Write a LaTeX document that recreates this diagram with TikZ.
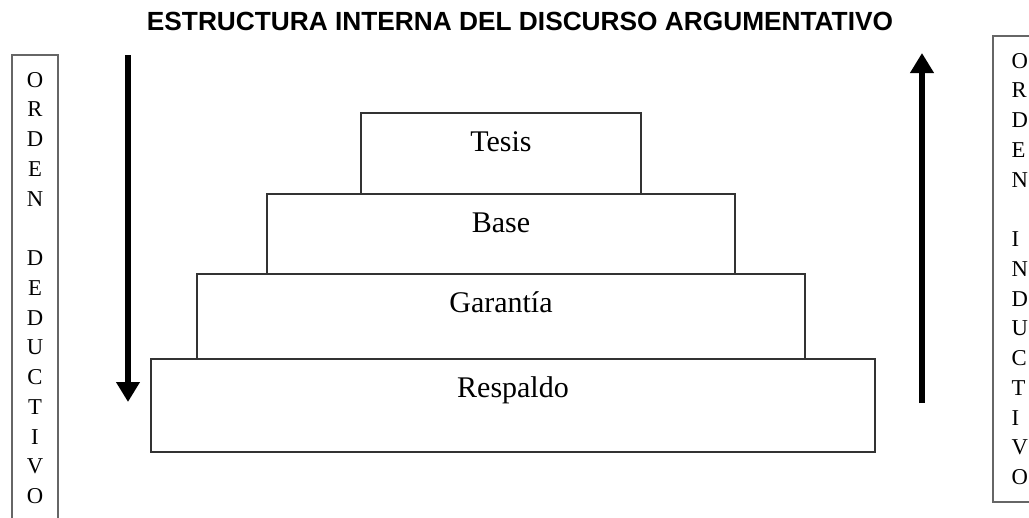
\documentclass[tikz,border=0pt]{standalone}
\usepackage{fontspec}
\setmainfont{Liberation Serif}
\newfontfamily\titlefont{Liberation Sans}
\usetikzlibrary{arrows.meta, positioning}

\begin{document}
\begin{tikzpicture}[
    x=0.75pt, y=-0.75pt,
    every node/.style={font=\fontsize{22.5}{27}\selectfont},
    tier/.style={draw=black!80, line width=1.1pt, outer sep=0pt, inner sep=0pt, text height=29pt},
    side/.style={draw=black!60, line width=1.3pt, inner ysep=13pt, font=\fontsize{17}{22.3}\selectfont},
    flow/.style={line width=4.5pt, -{Triangle[width=17pt,length=15pt]}}
]
\clip (0,0) rectangle (1029,518);

% Title
\node[font=\titlefont\bfseries\fontsize{19.7}{23}\selectfont] (title) at (520,21)
    {ESTRUCTURA INTERNA DEL DISCURSO ARGUMENTATIVO};

% Steps
\node[tier, anchor=north, minimum width=210pt, minimum height=60.75pt, text depth=31.75pt] (tesis) at (501,113) {Tesis};
\node[tier, below=0pt of tesis, minimum width=351pt, minimum height=60pt, text depth=31pt] (base) {Base};
\node[tier, below=0pt of base, minimum width=456pt, minimum height=63.75pt, text depth=34.75pt] (garantia) {Garantía};
\node[tier, below=0pt of garantia, xshift=9pt, minimum width=543pt, minimum height=69.75pt, text depth=40.75pt] (respaldo) {Respaldo};

% Side boxes
\node[side, anchor=north, minimum width=34.5pt, inner xsep=0pt, align=center] (deductivo) at (35,54)
    {O\\R\\D\\E\\N\\[22.3pt]D\\E\\D\\U\\C\\T\\I\\V\\O};
\node[side, anchor=north west, inner xsep=14pt, text width=20pt, align=left] (inductivo) at (992,35)
    {O\\R\\D\\E\\N\\[22.3pt]I\\N\\D\\U\\C\\T\\I\\V\\O};

% Arrows
\coordinate (deductop) at (128,55);
\coordinate (deducbot) at (128,402);
\coordinate (inductop) at (922,53);
\coordinate (inducbot) at (922,403);
\draw[flow] (deductop) -- (deducbot);
\draw[flow] (inducbot) -- (inductop);

\end{tikzpicture}
\end{document}
